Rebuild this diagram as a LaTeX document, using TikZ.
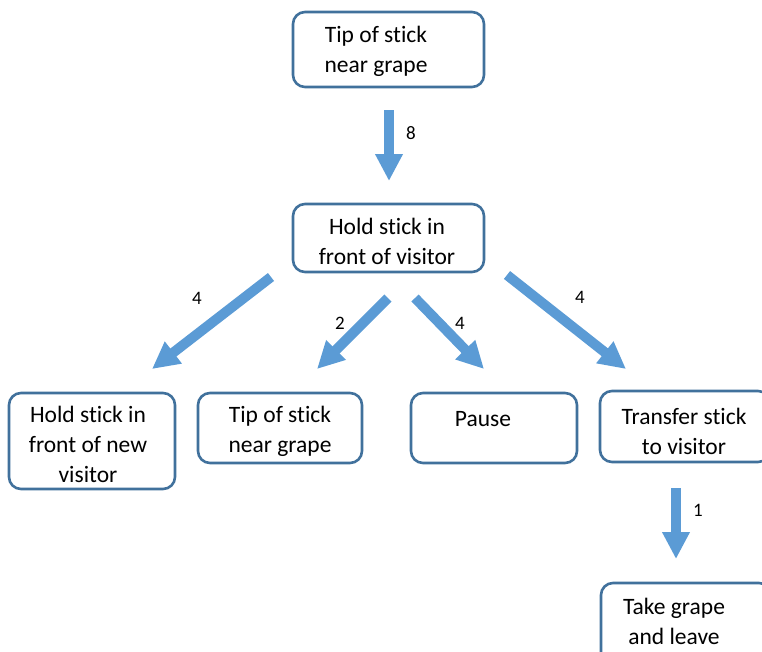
\documentclass[tikz,border=0pt]{standalone}
\usepackage{fontspec}
\setmainfont{Carlito}[Ligatures={NoCommon,NoRare,NoDiscretionary}]
\usetikzlibrary{arrows.meta}
\definecolor{boxblue}{HTML}{41719C}
\definecolor{arrblue}{HTML}{5B9BD5}
\begin{document}
\begin{tikzpicture}[x=1pt,y=-1pt,
  box/.style={draw=boxblue,line width=2.6pt,rounded corners=12pt,fill=white,inner sep=0pt},
  txt/.style={font=\fontsize{23.5}{30}\selectfont,align=center,inner sep=0pt},
  num/.style={font=\fontsize{19}{20}\selectfont,inner sep=0pt},
  bigarrow/.style={draw=arrblue,line width=10pt,-{Triangle[width=26pt,length=27pt]}}]
\useasboundingbox (0,0) rectangle (762,651);
% boxes
\node[box,minimum width=191pt,minimum height=75pt] (top) at (388.5,49.5) {};
\node[box,minimum width=191pt,minimum height=68pt] (hold) at (388.5,238) {};
\node[box,minimum width=166pt,minimum height=96pt] (b1) at (92,441) {};
\node[box,minimum width=164pt,minimum height=70pt] (b2) at (280,428) {};
\node[box,minimum width=166pt,minimum height=70pt] (b3) at (494,428) {};
\node[box,minimum width=170pt,minimum height=71pt] (b4) at (685,426.5) {};
\node[box,minimum width=170pt,minimum height=90pt] (b5) at (686,628) {};
% texts
\node[txt] (ttop) at (376,51) {Tip of stick\\near grape};
\node[txt] (thold) at (387,241) {Hold stick in\\front of visitor};
\node[txt] (tb1) at (88,444) {Hold stick in\\front of new\\visitor};
\node[txt] (tb2) at (280,431) {Tip of stick\\near grape};
\node[txt] (tb3) at (483,419) {Pause};
\node[txt] (tb4) at (684,431) {Transfer stick\\to visitor};
\node[txt] (tb5) at (674,621) {Take grape\\and leave};
% arrow end points
\coordinate (a1s) at (389,110); \coordinate (a1e) at (389,181);
\coordinate (a2s) at (271,277); \coordinate (a2e) at (152,369);
\coordinate (a3s) at (388,298); \coordinate (a3e) at (317,369);
\coordinate (a4s) at (415,298); \coordinate (a4e) at (484,369);
\coordinate (a5s) at (507,275); \coordinate (a5e) at (626,369);
\coordinate (a6s) at (676,488); \coordinate (a6e) at (676,559);
\draw[bigarrow] (a1s) -- (a1e);
\draw[bigarrow] (a2s) -- (a2e);
\draw[bigarrow] (a3s) -- (a3e);
\draw[bigarrow] (a4s) -- (a4e);
\draw[bigarrow] (a5s) -- (a5e);
\draw[bigarrow] (a6s) -- (a6e);
% labels
\node[num] (l1) at (411,133) {8};
\node[num] (l2) at (197,298) {4};
\node[num] (l3) at (340,323) {2};
\node[num] (l4) at (460,323) {4};
\node[num] (l5) at (580,297) {4};
\node[num] (l6) at (698,510) {1};
\end{tikzpicture}
\end{document}
